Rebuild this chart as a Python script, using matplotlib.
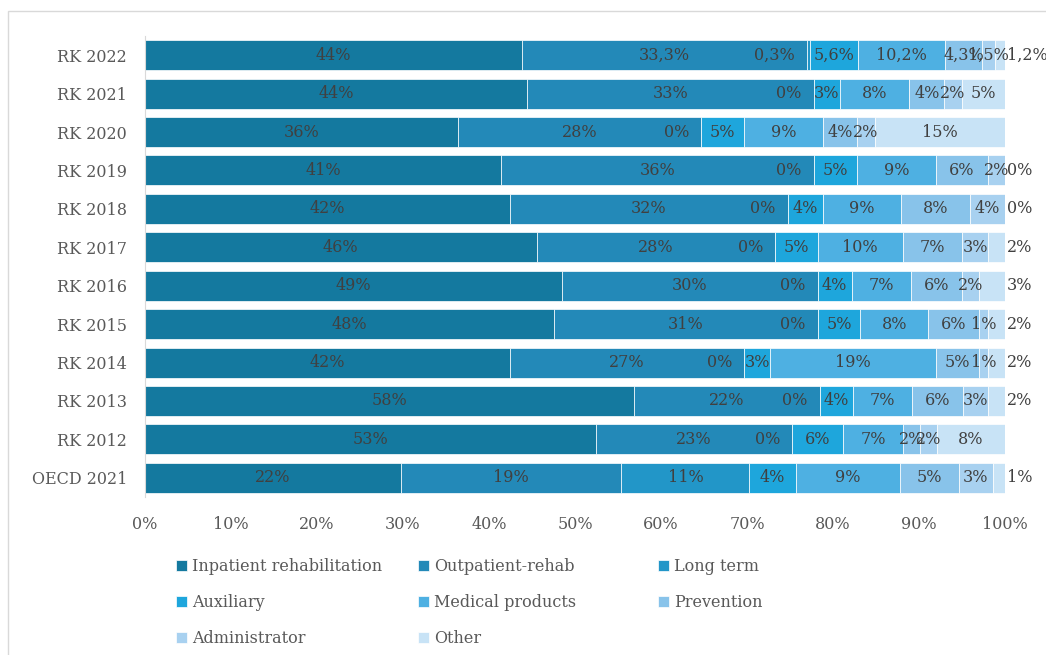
import numpy as np
import matplotlib
matplotlib.use('Agg')
from matplotlib import pyplot as plt
from matplotlib.patches import Rectangle

# rows, top to bottom
rows = ['RK 2022', 'RK 2021', 'RK 2020', 'RK 2019', 'RK 2018', 'RK 2017',
        'RK 2016', 'RK 2015', 'RK 2014', 'RK 2013', 'RK 2012', 'OECD 2021']
series = ['Inpatient rehabilitation', 'Outpatient-rehab', 'Long term', 'Auxiliary',
          'Medical products', 'Prevention', 'Administrator', 'Other']

inpatient = [44, 44, 36, 41, 42, 46, 49, 48, 42, 58, 53, 22]
outpatient = [33.3, 33, 28, 36, 32, 28, 30, 31, 27, 22, 23, 19]
long_term = [0.3, 0, 0, 0, 0, 0, 0, 0, 0, 0, 0, 11]
auxiliary = [5.6, 3, 5, 5, 4, 5, 4, 5, 3, 4, 6, 4]
medical = [10.2, 8, 9, 9, 9, 10, 7, 8, 19, 7, 7, 9]
prevention = [4.3, 4, 4, 6, 8, 7, 6, 6, 5, 6, 2, 5]
administrator = [1.5, 2, 2, 2, 4, 3, 2, 1, 1, 3, 2, 3]
other = [1.2, 5, 15, 0, 0, 2, 3, 2, 2, 2, 8, 1]

colors = ['#14799f', '#2389b8', '#2296c8', '#1ea6dc', '#4eb0e2', '#88c3ea', '#a8d1f0', '#c8e3f6']

data = np.array([inpatient, outpatient, long_term, auxiliary, medical,
                 prevention, administrator, other], dtype=float)
share = data / data.sum(axis=0) * 100

plt.rcParams['font.family'] = 'DejaVu Serif'
fig = plt.figure(figsize=(10.46, 6.55), dpi=100)
ax = fig.add_axes([145/1046, 1 - 497/655, 860/1046, 461/655])

y = np.arange(len(rows))
left = np.zeros(len(rows))
handles = []
for k in range(len(series)):
    h = ax.barh(y, share[k], left=left, height=0.78, color=colors[k],
                edgecolor='white', linewidth=0.5, label=series[k])
    handles.append(h)
    for i in range(len(rows)):
        v = data[k][i]
        if v == int(v):
            txt = '%d%%' % v
        else:
            txt = ('%.1f%%' % v).replace('.', ',')
        w = share[k][i]
        if k == len(series) - 1 and v <= 3:
            ax.text(100.2, y[i], txt, ha='left', va='center', fontsize=11.5, color='#404040')
        elif v < 1:
            ax.text(left[i] - 1.4, y[i], txt, ha='right', va='center', fontsize=11.5, color='#404040')
        else:
            ax.text(left[i] + w / 2, y[i], txt, ha='center', va='center', fontsize=11.5, color='#404040')
    left = left + share[k]

ax.set_xlim(0, 100)
ax.set_ylim(len(rows) - 0.5, -0.5)
ax.set_yticks(y)
ax.set_yticklabels(rows)
ax.set_xticks(np.arange(0, 101, 10))
ax.set_xticklabels(['%d%%' % t for t in range(0, 101, 10)])
ax.tick_params(length=0, labelsize=11.5, labelcolor='#595959')
ax.tick_params(axis='x', pad=14)
ax.tick_params(axis='y', pad=13)
for s in ['top', 'right', 'bottom']:
    ax.spines[s].set_visible(False)
ax.spines['left'].set_color('#d9d9d9')

# legend laid out row by row in three columns
cols = [[0, 3, 6], [1, 4, 7], [2, 5]]
xpos = [168, 410, 650]
for c in range(3):
    fig.legend([handles[k] for k in cols[c]], [series[k] for k in cols[c]],
               loc='upper left', bbox_to_anchor=(xpos[c]/1046, 1 - 550/655),
               frameon=False, fontsize=11.5, labelcolor='#595959',
               handlelength=0.7, handleheight=0.7, handletextpad=0.3,
               labelspacing=1.2, borderpad=0)

fig.patches.append(Rectangle((8/1046, -0.1), 1.2, 1.1 - 11/655, transform=fig.transFigure,
                             fill=False, edgecolor='#d9d9d9', linewidth=1))

plt.savefig('out.png', dpi=100)
